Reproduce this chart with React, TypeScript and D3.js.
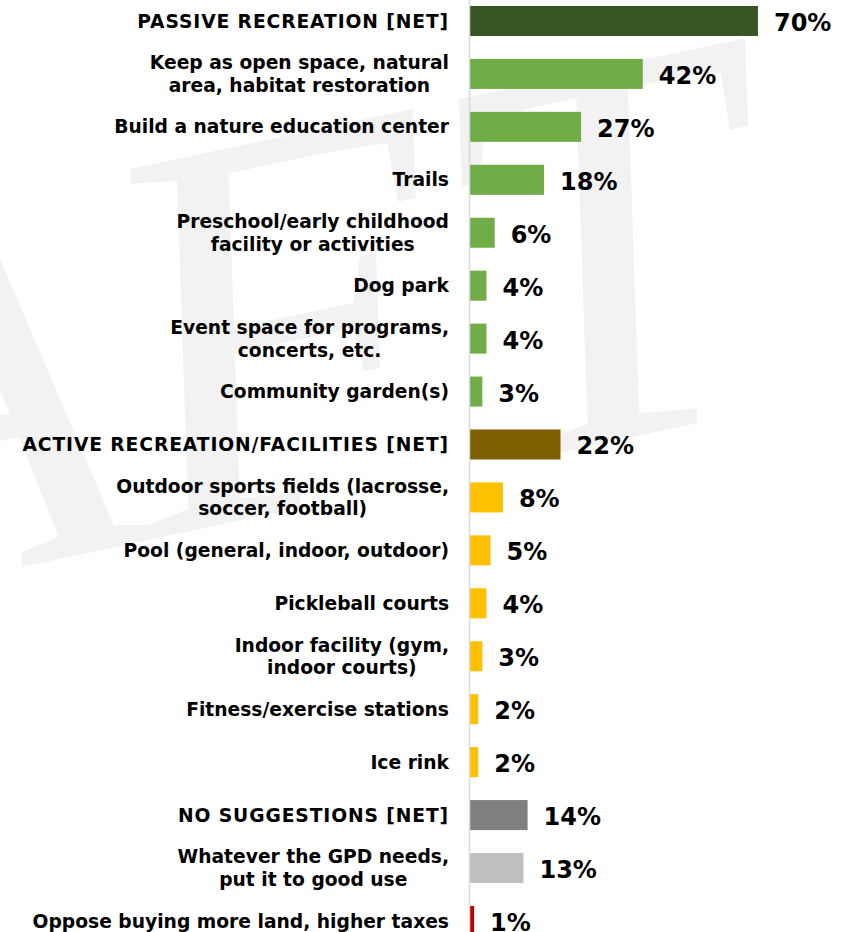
import React, { useEffect, useRef } from "react";
import * as d3 from "d3";

// row labels ("\n" = wrapped line), top to bottom
const categories = [
  "PASSIVE RECREATION [NET]",
  "Keep as open space, natural\narea, habitat restoration",
  "Build a nature education center",
  "Trails",
  "Preschool/early childhood\nfacility or activities",
  "Dog park",
  "Event space for programs,\nconcerts, etc.",
  "Community garden(s)",
  "ACTIVE RECREATION/FACILITIES [NET]",
  "Outdoor sports fields (lacrosse,\nsoccer, football)",
  "Pool (general, indoor, outdoor)",
  "Pickleball courts",
  "Indoor facility (gym,\nindoor courts)",
  "Fitness/exercise stations",
  "Ice rink",
  "NO SUGGESTIONS [NET]",
  "Whatever the GPD needs,\nput it to good use",
  "Oppose buying more land, higher taxes",
];

const values = [70, 42, 27, 18, 6, 4, 4, 3, 22, 8, 5, 4, 3, 2, 2, 14, 13, 1];

const groups = [
  "passiveNet", "passive", "passive", "passive", "passive", "passive", "passive", "passive",
  "activeNet", "active", "active", "active", "active", "active", "active",
  "noneNet", "none", "oppose",
];

const groupColors: Record<string, string> = {
  passiveNet: "#375623",
  passive: "#70AD47",
  activeNet: "#7F6000",
  active: "#FFC000",
  noneNet: "#808080",
  none: "#BFBFBF",
  oppose: "#C00000",
};

const width = 849;
const height = 932;

const App: React.FC = () => {
  const svgRef = useRef<SVGSVGElement | null>(null);

  useEffect(() => {
    if (!svgRef.current) return;
    const svg = d3.select(svgRef.current);
    svg.selectAll("*").remove();

    const x0 = 470;
    const x = d3.scaleLinear().domain([0, 100]).range([x0, x0 + 411.4]);

    const step = 52.94;
    const y = d3
      .scaleBand<number>()
      .domain(d3.range(categories.length))
      .range([-5.5, -5.5 + step * categories.length])
      .paddingInner(0.433)
      .paddingOuter(0.2165);

    // faint DRAFT watermark behind everything
    svg
      .append("text")
      .attr("transform", "translate(-915,766) rotate(-12)")
      .attr("font-family", "Liberation Serif, serif")
      .attr("font-style", "italic")
      .attr("font-size", 560)
      .attr("fill", "#f2f2f2")
      .text("DRAFT");

    svg
      .selectAll(".bar")
      .data(values)
      .enter()
      .append("rect")
      .attr("class", "bar")
      .attr("x", x(0))
      .attr("y", (_, i) => y(i)!)
      .attr("width", (d) => x(d) - x(0))
      .attr("height", y.bandwidth())
      .attr("fill", (_, i) => groupColors[groups[i]]);

    // vertical axis line
    svg
      .append("line")
      .attr("x1", x0 - 0.5)
      .attr("x2", x0 - 0.5)
      .attr("y1", 0)
      .attr("y2", height)
      .attr("stroke", "#d9d9d9")
      .attr("stroke-width", 1.5);

    svg
      .selectAll(".val")
      .data(values)
      .enter()
      .append("text")
      .attr("class", "val")
      .attr("x", (d) => x(d) + 16)
      .attr("y", (_, i) => y(i)! + y.bandwidth() / 2 + 10)
      .attr("font-family", "DejaVu Sans, Verdana, sans-serif")
      .attr("font-weight", "bold")
      .attr("font-size", 24)
      .attr("fill", "#000")
      .text((d) => `${d}%`);

    // category labels: block right-aligned, wrapped lines centred on each other
    const labelRight = 449;
    const lineH = 22.7;
    categories.forEach((cat, i) => {
      const lines = cat.split("\n");
      const cy = y(i)! + y.bandwidth() / 2;
      const caps = cat === cat.toUpperCase();
      const g = svg.append("g");
      const texts = lines.map((ln, j) =>
        g
          .append("text")
          .attr("y", cy + 6.6 + (j - (lines.length - 1) / 2) * lineH)
          .attr("font-family", "DejaVu Sans, Verdana, sans-serif")
          .attr("font-weight", "bold")
          .attr("font-size", 18.7)
          .attr("letter-spacing", caps ? 0.9 : 0)
          .attr("fill", "#000")
          .attr("text-anchor", "middle")
          .text(ln)
      );
      const maxW = d3.max(texts, (t) => (t.node() as SVGTextElement).getComputedTextLength()) || 0;
      texts.forEach((t) => t.attr("x", labelRight - maxW / 2));
    });
  }, []);

  return (
    <div style={{ position: "absolute", left: 0, top: 0, background: "#fff" }}>
      <svg ref={svgRef} width={width} height={height} style={{ display: "block" }}></svg>
    </div>
  );
};

export default App;
